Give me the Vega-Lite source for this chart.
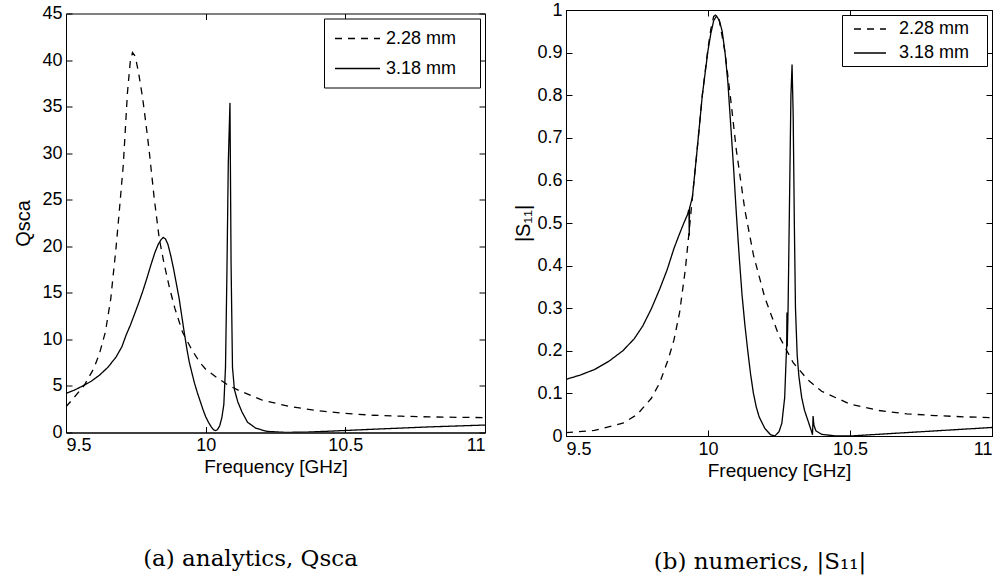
{
  "$schema": "https://vega.github.io/schema/vega-lite/v6.json",
  "background": "white",
  "padding": {"left": 13, "top": 0, "right": 0, "bottom": 0},
  "bounds": "flush",
  "center": true,
  "spacing": 81,
  "config": {
    "font": "Liberation Sans",
    "view": {"stroke": "black", "strokeWidth": 1},
    "axis": {
      "grid": false, "domainColor": "black", "domainWidth": 1, "tickColor": "black", "tickWidth": 1,
      "labelColor": "black", "titleColor": "black", "labelFontSize": 18, "titleFontSize": 19,
      "titleFontWeight": "normal", "tickSize": -6, "labelPadding": 10,
      "labelFont": "Liberation Sans", "titleFont": "Liberation Sans"
    },
    "legend": {
      "orient": "top-right", "offset": 5, "strokeColor": "black", "fillColor": "white",
      "symbolStrokeColor": "black", "symbolStrokeWidth": 1.3, "symbolFillColor": "transparent",
      "labelFontSize": 18, "labelFont": "Liberation Sans", "labelColor": "black", "cornerRadius": 0
    },
    "title": {"font": "DejaVu Serif", "fontSize": 23, "fontWeight": "normal", "color": "black"}
  },
  "resolve": {"scale": {"x": "independent", "y": "independent", "strokeDash": "independent"}, "legend": {"strokeDash": "independent"}},
  "hconcat": [
    {
      "width": 419, "height": 419,
      "title": {"text": "(a) analytics, Qsca", "orient": "bottom", "anchor": "middle", "offset": 71, "dx": -25},
      "data": {"values": [
        {"f": 9.5, "v": 2.76, "s": "2.28 mm"}, {"f": 9.53, "v": 3.8, "s": "2.28 mm"}, {"f": 9.566, "v": 5.1, "s": "2.28 mm"},
        {"f": 9.6, "v": 6.9, "s": "2.28 mm"}, {"f": 9.62, "v": 8.5, "s": "2.28 mm"}, {"f": 9.641, "v": 10.8, "s": "2.28 mm"},
        {"f": 9.66, "v": 14.3, "s": "2.28 mm"}, {"f": 9.679, "v": 19.8, "s": "2.28 mm"}, {"f": 9.69, "v": 23.5, "s": "2.28 mm"},
        {"f": 9.705, "v": 28.7, "s": "2.28 mm"}, {"f": 9.72, "v": 36.5, "s": "2.28 mm"}, {"f": 9.73, "v": 39.8, "s": "2.28 mm"},
        {"f": 9.738, "v": 40.8, "s": "2.28 mm"}, {"f": 9.748, "v": 40.4, "s": "2.28 mm"}, {"f": 9.76, "v": 38.6, "s": "2.28 mm"},
        {"f": 9.774, "v": 36.0, "s": "2.28 mm"}, {"f": 9.786, "v": 33.2, "s": "2.28 mm"}, {"f": 9.798, "v": 30.2, "s": "2.28 mm"},
        {"f": 9.816, "v": 25.1, "s": "2.28 mm"}, {"f": 9.834, "v": 20.8, "s": "2.28 mm"}, {"f": 9.85, "v": 18.3, "s": "2.28 mm"},
        {"f": 9.87, "v": 15.6, "s": "2.28 mm"}, {"f": 9.89, "v": 13.3, "s": "2.28 mm"}, {"f": 9.917, "v": 10.8, "s": "2.28 mm"},
        {"f": 9.95, "v": 8.9, "s": "2.28 mm"}, {"f": 9.98, "v": 7.5, "s": "2.28 mm"}, {"f": 10.0, "v": 6.8, "s": "2.28 mm"},
        {"f": 10.04, "v": 5.9, "s": "2.28 mm"}, {"f": 10.08, "v": 5.1, "s": "2.28 mm"}, {"f": 10.12, "v": 4.5, "s": "2.28 mm"},
        {"f": 10.2, "v": 3.5, "s": "2.28 mm"}, {"f": 10.3, "v": 2.8, "s": "2.28 mm"}, {"f": 10.4, "v": 2.35, "s": "2.28 mm"},
        {"f": 10.5, "v": 2.05, "s": "2.28 mm"}, {"f": 10.6, "v": 1.85, "s": "2.28 mm"}, {"f": 10.7, "v": 1.75, "s": "2.28 mm"},
        {"f": 10.8, "v": 1.68, "s": "2.28 mm"}, {"f": 10.9, "v": 1.63, "s": "2.28 mm"}, {"f": 11.0, "v": 1.6, "s": "2.28 mm"},
        {"f": 9.5, "v": 4.2, "s": "3.18 mm"}, {"f": 9.53, "v": 4.55, "s": "3.18 mm"}, {"f": 9.56, "v": 5.0, "s": "3.18 mm"},
        {"f": 9.59, "v": 5.5, "s": "3.18 mm"}, {"f": 9.62, "v": 6.16, "s": "3.18 mm"}, {"f": 9.65, "v": 7.0, "s": "3.18 mm"},
        {"f": 9.679, "v": 8.1, "s": "3.18 mm"}, {"f": 9.7, "v": 9.2, "s": "3.18 mm"}, {"f": 9.715, "v": 10.45, "s": "3.18 mm"},
        {"f": 9.73, "v": 11.5, "s": "3.18 mm"}, {"f": 9.744, "v": 12.6, "s": "3.18 mm"}, {"f": 9.76, "v": 13.9, "s": "3.18 mm"},
        {"f": 9.774, "v": 15.1, "s": "3.18 mm"}, {"f": 9.79, "v": 16.6, "s": "3.18 mm"}, {"f": 9.804, "v": 18.0, "s": "3.18 mm"},
        {"f": 9.818, "v": 19.3, "s": "3.18 mm"}, {"f": 9.83, "v": 20.2, "s": "3.18 mm"}, {"f": 9.84, "v": 20.7, "s": "3.18 mm"},
        {"f": 9.848, "v": 20.95, "s": "3.18 mm"}, {"f": 9.856, "v": 20.8, "s": "3.18 mm"}, {"f": 9.865, "v": 20.2, "s": "3.18 mm"},
        {"f": 9.875, "v": 19.0, "s": "3.18 mm"}, {"f": 9.885, "v": 17.6, "s": "3.18 mm"}, {"f": 9.895, "v": 16.0, "s": "3.18 mm"},
        {"f": 9.905, "v": 14.4, "s": "3.18 mm"}, {"f": 9.914, "v": 12.6, "s": "3.18 mm"}, {"f": 9.923, "v": 10.8, "s": "3.18 mm"},
        {"f": 9.932, "v": 9.1, "s": "3.18 mm"}, {"f": 9.941, "v": 7.6, "s": "3.18 mm"}, {"f": 9.95, "v": 6.5, "s": "3.18 mm"},
        {"f": 9.96, "v": 5.3, "s": "3.18 mm"}, {"f": 9.97, "v": 4.3, "s": "3.18 mm"}, {"f": 9.98, "v": 3.4, "s": "3.18 mm"},
        {"f": 9.99, "v": 2.5, "s": "3.18 mm"}, {"f": 10.0, "v": 1.7, "s": "3.18 mm"}, {"f": 10.01, "v": 1.1, "s": "3.18 mm"},
        {"f": 10.02, "v": 0.6, "s": "3.18 mm"}, {"f": 10.028, "v": 0.3, "s": "3.18 mm"}, {"f": 10.035, "v": 0.2, "s": "3.18 mm"},
        {"f": 10.042, "v": 0.3, "s": "3.18 mm"}, {"f": 10.05, "v": 0.7, "s": "3.18 mm"}, {"f": 10.058, "v": 1.6, "s": "3.18 mm"},
        {"f": 10.065, "v": 3.0, "s": "3.18 mm"}, {"f": 10.071, "v": 7.0, "s": "3.18 mm"}, {"f": 10.076, "v": 17.0, "s": "3.18 mm"},
        {"f": 10.081, "v": 29.0, "s": "3.18 mm"}, {"f": 10.087, "v": 35.4, "s": "3.18 mm"}, {"f": 10.091, "v": 18.0, "s": "3.18 mm"},
        {"f": 10.096, "v": 7.0, "s": "3.18 mm"}, {"f": 10.103, "v": 4.6, "s": "3.18 mm"}, {"f": 10.115, "v": 3.3, "s": "3.18 mm"},
        {"f": 10.13, "v": 2.2, "s": "3.18 mm"}, {"f": 10.15, "v": 1.1, "s": "3.18 mm"}, {"f": 10.18, "v": 0.45, "s": "3.18 mm"},
        {"f": 10.22, "v": 0.12, "s": "3.18 mm"}, {"f": 10.28, "v": 0.02, "s": "3.18 mm"}, {"f": 10.35, "v": 0.03, "s": "3.18 mm"},
        {"f": 10.45, "v": 0.15, "s": "3.18 mm"}, {"f": 10.6, "v": 0.35, "s": "3.18 mm"}, {"f": 10.8, "v": 0.6, "s": "3.18 mm"},
        {"f": 11.0, "v": 0.8, "s": "3.18 mm"}
      ]},
      "layer": [
        {
          "mark": {"type": "line", "color": "black", "strokeWidth": 1.3, "clip": true},
          "encoding": {
            "x": {"field": "f", "type": "quantitative", "scale": {"domain": [9.5, 11], "nice": false, "zero": false},
                  "axis": {"orient": "bottom", "values": [9.5, 10, 10.5, 11], "format": "~g", "title": "Frequency [GHz]", "titlePadding": 3}},
            "y": {"field": "v", "type": "quantitative", "scale": {"domain": [0, 45], "nice": false},
                  "axis": {"orient": "left", "values": [0, 5, 10, 15, 20, 25, 30, 35, 40, 45], "title": "Qsca", "titleFontSize": 20, "titlePadding": 8}},
            "strokeDash": {"field": "s", "type": "nominal", "scale": {"domain": ["2.28 mm", "3.18 mm"], "range": [[7, 6], [1, 0]]},
                           "legend": {"title": null, "symbolType": "M-1,0H4", "symbolSize": 324, "padding": 10, "rowPadding": 11, "labelOffset": 32,
                                      "labelExpr": "datum.label + '\u2800'"}}
          }
        },
        {
          "mark": {"type": "point", "opacity": 0},
          "encoding": {
            "x": {"field": "f", "type": "quantitative", "axis": {"orient": "top", "values": [9.5, 10, 10.5, 11], "labels": false, "title": null, "domain": false}},
            "y": {"field": "v", "type": "quantitative", "axis": {"orient": "right", "values": [0, 5, 10, 15, 20, 25, 30, 35, 40, 45], "labels": false, "title": null, "domain": false}}
          }
        }
      ],
      "resolve": {"axis": {"x": "independent", "y": "independent"}}
    },
    {
      "width": 426, "height": 426,
      "title": {"text": "(b) numerics, |S₁₁|", "orient": "bottom", "anchor": "middle", "offset": 71, "dx": -19},
      "data": {"values": [
        {"f": 9.5, "v": 0.008, "s": "2.28 mm"}, {"f": 9.6, "v": 0.013, "s": "2.28 mm"}, {"f": 9.7, "v": 0.03, "s": "2.28 mm"},
        {"f": 9.75, "v": 0.05, "s": "2.28 mm"}, {"f": 9.8, "v": 0.088, "s": "2.28 mm"}, {"f": 9.83, "v": 0.125, "s": "2.28 mm"},
        {"f": 9.86, "v": 0.18, "s": "2.28 mm"}, {"f": 9.88, "v": 0.225, "s": "2.28 mm"}, {"f": 9.9, "v": 0.29, "s": "2.28 mm"},
        {"f": 9.92, "v": 0.39, "s": "2.28 mm"}, {"f": 9.935, "v": 0.49, "s": "2.28 mm"}, {"f": 9.945, "v": 0.56, "s": "2.28 mm"},
        {"f": 9.96, "v": 0.66, "s": "2.28 mm"}, {"f": 9.98, "v": 0.8, "s": "2.28 mm"}, {"f": 10.0, "v": 0.91, "s": "2.28 mm"},
        {"f": 10.01, "v": 0.955, "s": "2.28 mm"}, {"f": 10.02, "v": 0.985, "s": "2.28 mm"}, {"f": 10.03, "v": 0.99, "s": "2.28 mm"},
        {"f": 10.04, "v": 0.975, "s": "2.28 mm"}, {"f": 10.06, "v": 0.9, "s": "2.28 mm"}, {"f": 10.08, "v": 0.79, "s": "2.28 mm"},
        {"f": 10.1, "v": 0.67, "s": "2.28 mm"}, {"f": 10.13, "v": 0.53, "s": "2.28 mm"}, {"f": 10.16, "v": 0.425, "s": "2.28 mm"},
        {"f": 10.2, "v": 0.325, "s": "2.28 mm"}, {"f": 10.25, "v": 0.235, "s": "2.28 mm"}, {"f": 10.3, "v": 0.172, "s": "2.28 mm"},
        {"f": 10.35, "v": 0.133, "s": "2.28 mm"}, {"f": 10.4, "v": 0.105, "s": "2.28 mm"}, {"f": 10.5, "v": 0.075, "s": "2.28 mm"},
        {"f": 10.6, "v": 0.06, "s": "2.28 mm"}, {"f": 10.7, "v": 0.052, "s": "2.28 mm"}, {"f": 10.8, "v": 0.048, "s": "2.28 mm"},
        {"f": 10.9, "v": 0.045, "s": "2.28 mm"}, {"f": 11.0, "v": 0.043, "s": "2.28 mm"},
        {"f": 9.5, "v": 0.133, "s": "3.18 mm"}, {"f": 9.55, "v": 0.143, "s": "3.18 mm"}, {"f": 9.6, "v": 0.156, "s": "3.18 mm"},
        {"f": 9.65, "v": 0.175, "s": "3.18 mm"}, {"f": 9.7, "v": 0.2, "s": "3.18 mm"}, {"f": 9.74, "v": 0.228, "s": "3.18 mm"},
        {"f": 9.77, "v": 0.258, "s": "3.18 mm"}, {"f": 9.8, "v": 0.298, "s": "3.18 mm"}, {"f": 9.83, "v": 0.345, "s": "3.18 mm"},
        {"f": 9.856, "v": 0.39, "s": "3.18 mm"}, {"f": 9.88, "v": 0.44, "s": "3.18 mm"}, {"f": 9.9, "v": 0.475, "s": "3.18 mm"},
        {"f": 9.915, "v": 0.5, "s": "3.18 mm"}, {"f": 9.928, "v": 0.52, "s": "3.18 mm"}, {"f": 9.932, "v": 0.53, "s": "3.18 mm"},
        {"f": 9.933, "v": 0.53, "s": "3.18 mm"}, {"f": 9.934, "v": 0.47, "s": "3.18 mm"}, {"f": 9.935, "v": 0.535, "s": "3.18 mm"},
        {"f": 9.945, "v": 0.56, "s": "3.18 mm"}, {"f": 9.96, "v": 0.66, "s": "3.18 mm"}, {"f": 9.98, "v": 0.8, "s": "3.18 mm"},
        {"f": 10.0, "v": 0.905, "s": "3.18 mm"}, {"f": 10.01, "v": 0.945, "s": "3.18 mm"}, {"f": 10.02, "v": 0.975, "s": "3.18 mm"},
        {"f": 10.03, "v": 0.986, "s": "3.18 mm"}, {"f": 10.04, "v": 0.975, "s": "3.18 mm"}, {"f": 10.05, "v": 0.95, "s": "3.18 mm"},
        {"f": 10.06, "v": 0.9, "s": "3.18 mm"}, {"f": 10.07, "v": 0.83, "s": "3.18 mm"}, {"f": 10.08, "v": 0.73, "s": "3.18 mm"},
        {"f": 10.09, "v": 0.63, "s": "3.18 mm"}, {"f": 10.1, "v": 0.52, "s": "3.18 mm"}, {"f": 10.11, "v": 0.42, "s": "3.18 mm"},
        {"f": 10.12, "v": 0.33, "s": "3.18 mm"}, {"f": 10.13, "v": 0.26, "s": "3.18 mm"}, {"f": 10.14, "v": 0.2, "s": "3.18 mm"},
        {"f": 10.15, "v": 0.145, "s": "3.18 mm"}, {"f": 10.16, "v": 0.1, "s": "3.18 mm"}, {"f": 10.17, "v": 0.068, "s": "3.18 mm"},
        {"f": 10.18, "v": 0.045, "s": "3.18 mm"}, {"f": 10.2, "v": 0.018, "s": "3.18 mm"}, {"f": 10.22, "v": 0.003, "s": "3.18 mm"},
        {"f": 10.235, "v": 0.0, "s": "3.18 mm"}, {"f": 10.25, "v": 0.01, "s": "3.18 mm"}, {"f": 10.26, "v": 0.03, "s": "3.18 mm"},
        {"f": 10.27, "v": 0.09, "s": "3.18 mm"}, {"f": 10.275, "v": 0.18, "s": "3.18 mm"}, {"f": 10.277, "v": 0.21, "s": "3.18 mm"},
        {"f": 10.278, "v": 0.29, "s": "3.18 mm"}, {"f": 10.279, "v": 0.21, "s": "3.18 mm"}, {"f": 10.282, "v": 0.3, "s": "3.18 mm"},
        {"f": 10.287, "v": 0.55, "s": "3.18 mm"}, {"f": 10.292, "v": 0.8, "s": "3.18 mm"}, {"f": 10.296, "v": 0.872, "s": "3.18 mm"},
        {"f": 10.3, "v": 0.75, "s": "3.18 mm"}, {"f": 10.304, "v": 0.5, "s": "3.18 mm"}, {"f": 10.308, "v": 0.3, "s": "3.18 mm"},
        {"f": 10.314, "v": 0.19, "s": "3.18 mm"}, {"f": 10.32, "v": 0.14, "s": "3.18 mm"}, {"f": 10.33, "v": 0.09, "s": "3.18 mm"},
        {"f": 10.34, "v": 0.06, "s": "3.18 mm"}, {"f": 10.355, "v": 0.03, "s": "3.18 mm"}, {"f": 10.365, "v": 0.01, "s": "3.18 mm"},
        {"f": 10.368, "v": 0.003, "s": "3.18 mm"}, {"f": 10.37, "v": 0.047, "s": "3.18 mm"}, {"f": 10.373, "v": 0.025, "s": "3.18 mm"},
        {"f": 10.38, "v": 0.012, "s": "3.18 mm"}, {"f": 10.4, "v": 0.004, "s": "3.18 mm"}, {"f": 10.45, "v": 0.0, "s": "3.18 mm"},
        {"f": 10.5, "v": 0.0, "s": "3.18 mm"}, {"f": 10.6, "v": 0.004, "s": "3.18 mm"}, {"f": 10.7, "v": 0.008, "s": "3.18 mm"},
        {"f": 10.8, "v": 0.012, "s": "3.18 mm"}, {"f": 10.9, "v": 0.016, "s": "3.18 mm"}, {"f": 11.0, "v": 0.02, "s": "3.18 mm"}
      ]},
      "layer": [
        {
          "mark": {"type": "line", "color": "black", "strokeWidth": 1.3, "clip": true},
          "encoding": {
            "x": {"field": "f", "type": "quantitative", "scale": {"domain": [9.5, 11], "nice": false, "zero": false},
                  "axis": {"orient": "bottom", "values": [9.5, 10, 10.5, 11], "format": "~g", "title": "Frequency [GHz]", "titlePadding": 3}},
            "y": {"field": "v", "type": "quantitative", "scale": {"domain": [0, 1], "nice": false},
                  "axis": {"orient": "left", "values": [0, 0.1, 0.2, 0.3, 0.4, 0.5, 0.6, 0.7, 0.8, 0.9, 1], "format": "~g", "title": "|S₁₁|", "titleFontSize": 20, "titlePadding": 3}},
            "strokeDash": {"field": "s", "type": "nominal", "scale": {"domain": ["2.28 mm", "3.18 mm"], "range": [[7, 6], [1, 0]]},
                           "legend": {"title": null, "symbolType": "M-0.222,0H3.333", "symbolSize": 324, "padding": 4, "rowPadding": 5, "labelOffset": 33,
                                      "labelExpr": "datum.label + '\u2800'"}}
          }
        },
        {
          "mark": {"type": "point", "opacity": 0},
          "encoding": {
            "x": {"field": "f", "type": "quantitative", "axis": {"orient": "top", "values": [9.5, 10, 10.5, 11], "labels": false, "title": null, "domain": false}},
            "y": {"field": "v", "type": "quantitative", "axis": {"orient": "right", "values": [0, 0.1, 0.2, 0.3, 0.4, 0.5, 0.6, 0.7, 0.8, 0.9, 1], "labels": false, "title": null, "domain": false}}
          }
        }
      ],
      "resolve": {"axis": {"x": "independent", "y": "independent"}}
    }
  ]
}
